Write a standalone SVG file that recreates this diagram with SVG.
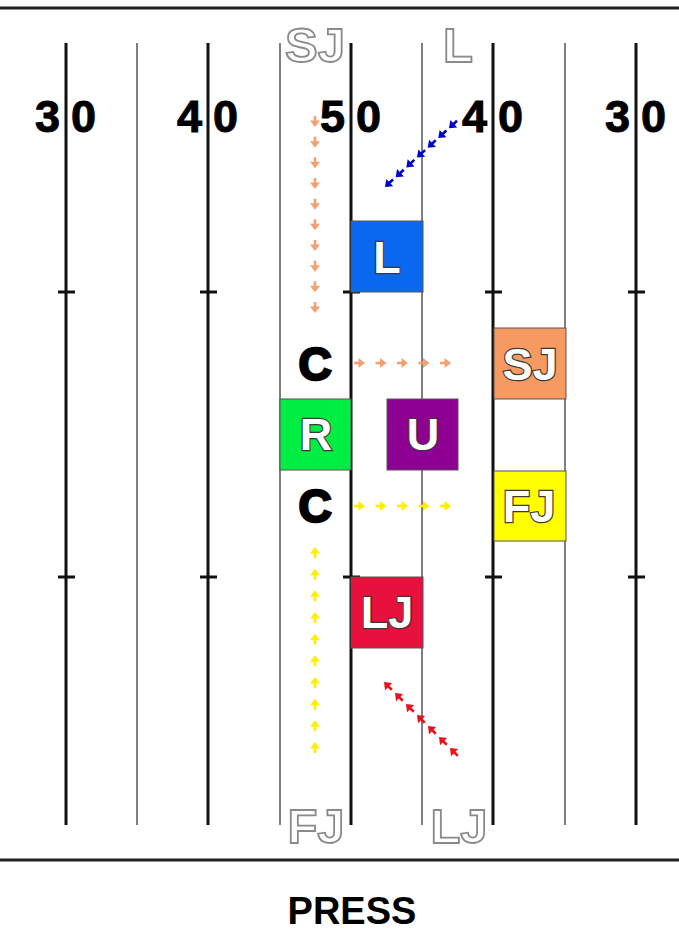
<svg xmlns="http://www.w3.org/2000/svg" xmlns:xlink="http://www.w3.org/1999/xlink" width="679" height="931" viewBox="0 0 679 931">
<style>
.thick{stroke:#111;stroke-width:3;fill:none}
.thin{stroke:#555;stroke-width:1.5;fill:none}
.num{font-family:"Liberation Sans",Arial,sans-serif;font-weight:bold;font-size:45px;fill:#000;stroke:#000;stroke-width:1}
.out{font-family:"Liberation Sans",Arial,sans-serif;font-weight:bold;font-size:49px;fill:#fff;stroke:#8a8a8a;stroke-width:1.8;text-anchor:middle}
.lbl{font-family:"Liberation Sans",Arial,sans-serif;font-weight:bold;font-size:45px;fill:#fff;stroke:#3a3a3a;stroke-width:2.4;paint-order:stroke fill;text-anchor:middle}
.c{font-family:"Liberation Sans",Arial,sans-serif;font-weight:bold;font-size:46px;fill:#000;stroke:#000;stroke-width:2.5;text-anchor:middle}
.box{stroke:#555;stroke-width:1}
</style>
<defs>
<g id="a"><line x1="-11" y1="0" x2="-4" y2="0" stroke="currentColor" stroke-width="2.6"/><polygon points="0,0 -6.5,-5 -6.5,5" fill="currentColor"/></g>
</defs>
<rect width="679" height="931" fill="#fff"/>
<g id="field">
<line x1="0" y1="8" x2="679" y2="8" stroke="#222" stroke-width="3"/>
<line x1="0" y1="860" x2="679" y2="860" stroke="#222" stroke-width="3"/>
<line class="thick" x1="66" y1="43" x2="66" y2="825"/>
<line class="thick" x1="208" y1="43" x2="208" y2="825"/>
<line class="thick" x1="351" y1="43" x2="351" y2="825"/>
<line class="thick" x1="493" y1="43" x2="493" y2="825"/>
<line class="thick" x1="636" y1="43" x2="636" y2="825"/>
<line class="thin" x1="137" y1="43" x2="137" y2="825"/>
<line class="thin" x1="280" y1="43" x2="280" y2="825"/>
<line class="thin" x1="422" y1="43" x2="422" y2="825"/>
<line class="thin" x1="565" y1="43" x2="565" y2="825"/>
<g stroke="#111" stroke-width="3">
<line x1="58" y1="292" x2="75" y2="292"/><line x1="200" y1="292" x2="217" y2="292"/><line x1="343" y1="292" x2="360" y2="292"/><line x1="485" y1="292" x2="502" y2="292"/><line x1="628" y1="292" x2="645" y2="292"/>
<line x1="58" y1="577" x2="75" y2="577"/><line x1="200" y1="577" x2="217" y2="577"/><line x1="343" y1="577" x2="360" y2="577"/><line x1="485" y1="577" x2="502" y2="577"/><line x1="628" y1="577" x2="645" y2="577"/>
</g>
<text class="num" x="60" y="132" text-anchor="end">3</text><text class="num" x="71" y="132">0</text>
<text class="num" x="202" y="132" text-anchor="end">4</text><text class="num" x="213" y="132">0</text>
<text class="num" x="345" y="132" text-anchor="end">5</text><text class="num" x="356" y="132">0</text>
<text class="num" x="487" y="132" text-anchor="end">4</text><text class="num" x="498" y="132">0</text>
<text class="num" x="630" y="132" text-anchor="end">3</text><text class="num" x="641" y="132">0</text>
<text class="out" x="315" y="62">SJ</text>
<text class="out" x="458" y="62">L</text>
<text class="out" x="316" y="843">FJ</text>
<text class="out" x="459" y="843">LJ</text>
<text x="352" y="924" text-anchor="middle" font-family="Liberation Sans, Arial, sans-serif" font-weight="bold" font-size="38">PRESS</text>
</g>
<g id="connectors">
<g color="#f4a072">
<use xlink:href="#a" transform="translate(315,127) rotate(90)"/>
<use xlink:href="#a" transform="translate(315,147.7) rotate(90)"/>
<use xlink:href="#a" transform="translate(315,168.3) rotate(90)"/>
<use xlink:href="#a" transform="translate(315,189) rotate(90)"/>
<use xlink:href="#a" transform="translate(315,209.7) rotate(90)"/>
<use xlink:href="#a" transform="translate(315,230.3) rotate(90)"/>
<use xlink:href="#a" transform="translate(315,251) rotate(90)"/>
<use xlink:href="#a" transform="translate(315,271.7) rotate(90)"/>
<use xlink:href="#a" transform="translate(315,292.3) rotate(90)"/>
<use xlink:href="#a" transform="translate(315,313) rotate(90)"/>
<use xlink:href="#a" transform="translate(365,363)"/>
<use xlink:href="#a" transform="translate(386.5,363)"/>
<use xlink:href="#a" transform="translate(408,363)"/>
<use xlink:href="#a" transform="translate(429.5,363)"/>
<use xlink:href="#a" transform="translate(451,363)"/>
</g>
<g color="#ffee00">
<use xlink:href="#a" transform="translate(365,506)"/>
<use xlink:href="#a" transform="translate(386.5,506)"/>
<use xlink:href="#a" transform="translate(408,506)"/>
<use xlink:href="#a" transform="translate(429.5,506)"/>
<use xlink:href="#a" transform="translate(451,506)"/>
<use xlink:href="#a" transform="translate(315,547) rotate(-90)"/>
<use xlink:href="#a" transform="translate(315,568.7) rotate(-90)"/>
<use xlink:href="#a" transform="translate(315,590.3) rotate(-90)"/>
<use xlink:href="#a" transform="translate(315,612) rotate(-90)"/>
<use xlink:href="#a" transform="translate(315,633.7) rotate(-90)"/>
<use xlink:href="#a" transform="translate(315,655.3) rotate(-90)"/>
<use xlink:href="#a" transform="translate(315,677) rotate(-90)"/>
<use xlink:href="#a" transform="translate(315,698.7) rotate(-90)"/>
<use xlink:href="#a" transform="translate(315,720.3) rotate(-90)"/>
<use xlink:href="#a" transform="translate(315,742) rotate(-90)"/>
</g>
<g color="#0000cc">
<use xlink:href="#a" transform="translate(385,187) rotate(137)"/>
<use xlink:href="#a" transform="translate(395.7,177.2) rotate(137)"/>
<use xlink:href="#a" transform="translate(406.3,167.4) rotate(137)"/>
<use xlink:href="#a" transform="translate(417,157.6) rotate(137)"/>
<use xlink:href="#a" transform="translate(427.7,147.8) rotate(137)"/>
<use xlink:href="#a" transform="translate(438.3,138) rotate(137)"/>
<use xlink:href="#a" transform="translate(449,128.2) rotate(137)"/>
</g>
<g color="#e8101c">
<use xlink:href="#a" transform="translate(384,682) rotate(225)"/>
<use xlink:href="#a" transform="translate(395,693) rotate(225)"/>
<use xlink:href="#a" transform="translate(406,704) rotate(225)"/>
<use xlink:href="#a" transform="translate(417,715) rotate(225)"/>
<use xlink:href="#a" transform="translate(428,726) rotate(225)"/>
<use xlink:href="#a" transform="translate(439,737) rotate(225)"/>
<use xlink:href="#a" transform="translate(450,748) rotate(225)"/>
</g>
</g>
<g id="node-L"><rect class="box" x="351" y="221" width="72" height="71" fill="#0a68f0"/><text class="lbl" x="387" y="273">L</text></g>
<g id="node-SJ"><rect class="box" x="494" y="328" width="72" height="71" fill="#f79a62"/><text class="lbl" x="530" y="380">SJ</text></g>
<g id="node-R"><rect class="box" x="280" y="399" width="71" height="71" fill="#00ee44"/><text class="lbl" x="316" y="450">R</text></g>
<g id="node-U"><rect class="box" x="387" y="399" width="71" height="71" fill="#8e0092"/><text class="lbl" x="423" y="450">U</text></g>
<g id="node-FJ"><rect class="box" x="494" y="471" width="72" height="70" fill="#ffff00"/><text class="lbl" x="529" y="522">FJ</text></g>
<g id="node-LJ"><rect class="box" x="351" y="577" width="72" height="71" fill="#e8103c"/><text class="lbl" x="387" y="628">LJ</text></g>
<g id="node-C1"><text class="c" x="315" y="380">C</text></g>
<g id="node-C2"><text class="c" x="315" y="522">C</text></g>
</svg>
